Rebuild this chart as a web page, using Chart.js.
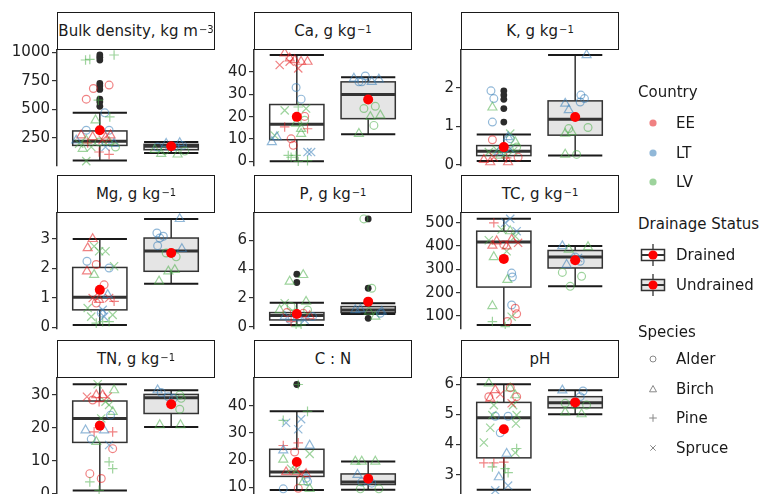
<!DOCTYPE html>
<html><head><meta charset="utf-8">
<script src="https://cdn.jsdelivr.net/npm/chart.js@4"></script>
<style>
body{margin:0;width:764px;height:494px;overflow:hidden;background:#fff;font-family:"DejaVu Sans",sans-serif;position:relative}
.strip{position:absolute;box-sizing:border-box;border:1.5px solid #1a1a1a;background:#fff;display:flex;align-items:center;justify-content:center;font-size:15px;color:#1a1a1a;white-space:nowrap}
.strip sup{font-size:10px;position:relative;top:-2px;vertical-align:top;margin-left:1px}
canvas{position:absolute}
.lg{position:absolute;font-size:15px;color:#1a1a1a;line-height:18px;white-space:nowrap}
svg{position:absolute;overflow:visible}
</style></head><body>
<script>
// ---------- DATA ----------
const categories = ["Drained", "Undrained"];
const countries = ["EE", "LT", "LV"];
const species = ["Alder", "Birch", "Pine", "Spruce"];

// box stats: [lowWhisker, q1, median, q3, highWhisker] per category
const bulkBox = [[50,182,218,309,468],[115,144,174,191,212]];
const bulkMean = [315,174];
const bulkOut = [[976,956,932,726,703,674,588,565,526],[]];
const bulkTicks = [250,500,750,1000];
const bulkRange = [1,1020];
const bulkPts = [[0.80,932,2,2],[0.86,938,2,2],[1.20,976,2,2],[0.91,682,0,0],[1.13,712,0,0],[0.81,588,0,0],[0.98,579,2,2],[1.07,468,1,0],[1.14,432,2,2],[0.94,403,2,1],[0.81,315,1,0],[1.13,315,1,0],[0.74,271,0,1],[0.90,256,0,1],[1.15,271,0,1],[0.81,226,2,1],[0.71,197,2,3],[1.04,232,0,3],[1.20,197,1,1],[0.99,212,2,0],[0.88,168,2,3],[0.83,203,0,2],[1.08,168,1,3],[0.76,153,2,1],[0.99,124,0,2],[1.13,103,0,2],[0.81,44,2,3],[1.13,212,2,1],[0.67,226,1,1],[1.22,168,2,0],[1.08,250,0,1],
 [1.86,109,2,1],[2.09,103,2,1],[1.98,168,1,1],[2.16,182,1,0],[1.81,168,1,0],[2.12,203,1,1],[1.91,138,2,0],[2.05,174,1,0],[1.77,144,2,1],[1.93,197,1,1],[2.19,132,2,0]];

const caBox = [[0.1,9.7,16.6,25.4,47.5],[12.1,19.1,29.9,35.5,37.5]];
const caMean = [19.9,27.6];
const caOut = [[],[]];
const caTicks = [0,10,20,30,40];
const caRange = [-2.0,49.7];
const caPts = [[0.83,48.2,0,1],[0.90,46.0,0,1],[0.97,45.2,0,1],[1.06,44.5,0,1],[1.15,44.5,0,1],[0.76,43.0,0,3],[1.02,41.5,0,3],[0.90,44.5,0,3],[0.99,33.0,1,0],[1.06,27.8,1,0],[0.83,22.8,2,3],[1.13,23.6,2,3],[1.02,24.3,2,2],[1.11,20.1,0,0],[0.99,16.9,2,1],[1.06,14.6,2,1],[0.83,15.4,0,2],[1.15,14.6,0,2],[0.69,11.6,2,3],[0.65,8.7,1,1],[0.92,10.1,0,0],[0.95,7.2,0,0],[0.99,2.7,2,2],[0.92,1.9,2,2],[1.15,0.4,2,2],[1.02,0.0,2,2],[1.15,4.2,1,3],[1.20,4.2,1,3],[0.88,2.7,2,2],[1.06,12.4,2,1],[1.11,18.4,2,0],[0.72,10.9,1,1],
 [1.80,37.0,1,1],[2.15,36.6,1,1],[1.87,35.5,1,0],[1.96,38.1,1,0],[1.91,35.5,1,0],[2.05,35.5,1,1],[1.94,23.6,2,0],[2.10,24.6,2,0],[2.03,19.9,2,1],[2.17,20.6,2,1],[2.08,16.1,2,0],[1.87,12.4,2,1]];

const kBox = [[0.10,0.24,0.35,0.50,0.79],[0.24,0.77,1.18,1.66,2.85]];
const kMean = [0.46,1.24];
const kOut = [[1.92,1.81,1.70,1.46,1.11],[]];
const kTicks = [0,1,2];
const kRange = [-0.03,2.98];
const kPts = [[0.82,1.92,1,0],[0.86,1.72,1,0],[0.84,1.11,1,0],[0.84,1.49,2,1],[0.84,0.65,0,0],[1.09,0.81,2,3],[1.06,0.72,1,1],[1.09,0.68,1,0],[1.16,0.59,2,1],[0.81,0.07,0,1],[1.06,0.07,0,1],[1.20,0.20,0,0],[0.79,0.33,2,3],[0.90,0.39,2,3],[1.02,0.29,2,3],[1.13,0.36,2,3],[0.95,0.24,2,1],[0.86,0.20,0,3],[1.09,0.42,1,3],[0.72,0.13,0,1],[1.18,0.46,2,0],[0.93,0.33,1,1],[1.04,0.18,0,2],
 [2.16,2.85,1,1],[2.08,1.81,1,0],[2.13,1.72,1,0],[2.07,1.63,1,0],[1.86,1.59,1,1],[1.91,1.42,1,1],[1.91,0.94,2,0],[2.18,0.97,2,0],[1.86,0.81,2,1],[1.95,0.85,2,1],[1.86,0.27,2,1],[2.02,0.27,2,0]];

const mgBox = [[0.08,0.59,1.02,2.03,3.00],[1.48,1.90,2.59,3.03,3.68]];
const mgMean = [1.27,2.52];
const mgOut = [[],[]];
const mgTicks = [0,1,2,3];
const mgRange = [-0.06,3.88];
const mgPts = [[0.90,3.00,0,1],[0.83,2.69,0,1],[0.82,1.90,0,1],[0.92,2.75,2,3],[0.99,2.58,2,3],[1.08,2.58,2,3],[0.82,2.24,1,0],[0.95,2.13,0,0],[0.92,1.78,2,1],[1.13,2.01,1,0],[1.20,2.07,2,3],[1.06,1.44,0,0],[0.90,0.99,0,3],[1.13,0.99,0,3],[0.99,0.93,0,1],[1.11,1.10,1,1],[1.04,0.59,1,3],[1.02,0.48,1,0],[0.83,0.65,2,3],[1.18,0.42,2,3],[0.95,0.14,2,2],[1.04,0.19,2,2],[1.13,0.19,2,2],[0.88,0.36,2,3],[1.20,0.88,0,2],[1.06,0.36,1,3],[0.95,0.82,0,0],
 [2.12,3.68,1,1],[1.80,3.20,1,0],[1.84,3.03,1,0],[1.81,2.77,1,0],[2.15,2.66,1,1],[1.93,2.52,2,0],[2.07,2.39,2,0],[1.96,1.90,2,1],[2.05,1.95,2,1],[1.83,1.56,2,1],[1.89,3.09,1,0]];

const pBox = [[0.12,0.47,0.77,0.98,1.67],[0.88,0.98,1.16,1.40,1.63]];
const pMean = [0.88,1.74];
const pOut = [[3.65,3.07],[7.49,2.67,0.58]];
const pTicks = [0,2,4,6];
const pRange = [-0.16,7.9];
const pPts = [[0.90,3.14,2,1],[1.09,3.60,2,1],[0.83,1.63,2,3],[1.13,1.74,2,1],[0.92,1.40,2,0],[0.83,0.70,1,1],[0.90,0.51,1,0],[1.09,0.93,0,0],[1.18,0.74,0,1],[1.06,0.12,2,2],[0.99,0.00,2,2],[0.95,1.05,2,3],[1.02,0.58,1,1],[0.86,0.98,0,0],[1.15,1.16,2,0],[1.11,0.47,1,3],[0.92,0.35,0,2],[0.76,1.16,2,1],[1.22,0.70,1,0],
 [1.94,7.49,2,0],[2.05,2.67,2,0],[1.82,1.16,1,1],[2.19,1.05,1,1],[2.10,0.70,2,1],[2.17,0.93,1,0],[2.01,1.05,2,1],[1.89,1.21,1,1]];

const tcBox = [[61,224,417,464,517],[227,306,353,381,400]];
const tcMean = [345,339];
const tcOut = [[],[]];
const tcTicks = [100,200,300,400,500];
const tcRange = [44,542];
const tcPts = [[0.86,500,0,2],[1.09,517,1,3],[1.18,464,1,3],[0.97,471,2,3],[1.09,464,2,1],[0.79,425,2,3],[0.90,421,0,1],[1.00,406,0,0],[1.11,428,0,1],[1.20,414,0,3],[1.04,378,2,3],[0.86,353,2,1],[1.11,284,1,0],[1.12,267,1,0],[1.05,255,2,1],[0.84,143,2,1],[1.11,147,1,0],[1.16,133,0,0],[1.18,109,0,0],[1.05,76,0,0],[0.84,76,2,2],[1.11,97,2,3],[1.02,54,2,2],[1.04,399,0,1],[1.16,442,2,3],[0.84,402,0,1],[1.02,500,1,3],
 [1.82,400,1,1],[2.18,396,2,1],[1.91,385,2,1],[2.00,353,1,0],[2.07,335,1,0],[1.88,320,1,1],[1.82,287,2,0],[2.09,270,2,0],[1.93,227,2,0],[2.04,349,1,3]];

const tnBox = [[1.0,15.6,22.9,28.2,33.3],[20.3,24.4,29.2,30.2,31.5]];
const tnMean = [20.7,27.2];
const tnOut = [[],[]];
const tnTicks = [0,10,20,30];
const tnRange = [-0.1,35.2];
const tnPts = [[0.97,33.3,2,3],[1.20,31.5,2,1],[0.82,29.5,0,3],[0.95,30.0,0,1],[1.04,30.0,0,1],[0.90,28.5,0,0],[0.99,28.0,0,2],[1.13,27.0,2,3],[1.18,24.9,2,1],[1.15,23.9,1,0],[1.02,22.9,2,3],[0.80,19.3,1,1],[0.92,18.8,0,2],[1.18,18.8,0,2],[0.88,16.6,1,0],[1.13,14.8,1,3],[1.18,13.7,0,0],[1.13,9.7,2,2],[1.18,7.6,2,2],[0.86,6.1,0,0],[1.02,4.6,0,0],[0.86,3.6,2,2],[0.99,1.0,2,2],[1.08,28.0,2,3],[0.95,15.8,2,1],[1.06,19.3,1,1],[1.11,29.5,0,3],
 [1.81,31.5,1,1],[1.86,30.8,1,0],[1.96,29.5,1,0],[2.12,30.0,2,0],[2.14,29.0,2,0],[2.12,25.7,2,0],[1.84,20.9,2,1],[2.13,20.9,2,1],[2.03,29.0,1,0]];

const cnBox = [[9.0,14.0,15.6,24.0,38.0],[9.1,11.0,11.9,14.9,19.5]];
const cnMean = [19.3,13.1];
const cnOut = [[47.9],[]];
const cnTicks = [10,20,30,40];
const cnRange = [7.5,50.3];
const cnPts = [[1.02,47.9,2,2],[1.15,38.0,2,2],[0.81,34.7,2,2],[0.85,33.8,1,3],[1.06,35.1,1,3],[1.02,31.4,1,3],[1.02,26.4,0,2],[0.81,25.4,0,2],[1.18,25.4,1,1],[0.81,23.6,1,1],[0.97,23.0,0,0],[1.18,22.3,2,3],[0.81,20.2,2,1],[0.85,15.6,0,1],[0.99,15.6,0,1],[1.13,14.9,0,1],[0.99,16.2,2,3],[1.06,14.9,0,3],[1.13,13.3,1,0],[1.15,12.1,1,0],[0.81,9.4,1,0],[1.18,9.4,2,1],[1.02,9.6,0,0],[0.92,16.8,2,3],[1.09,11.9,2,1],
 [1.82,19.5,2,1],[1.91,19.5,2,1],[2.10,19.5,2,1],[1.85,14.6,1,1],[1.91,11.9,1,0],[2.05,11.5,1,0],[1.89,9.4,2,0],[2.15,9.4,2,0],[2.01,12.5,1,0]];

const phBox = [[2.5,3.56,4.89,5.40,6.0],[5.01,5.22,5.39,5.59,5.80]];
const phMean = [4.51,5.40];
const phOut = [[],[]];
const phTicks = [3,4,5,6];
const phRange = [2.36,6.21];
const phPts = [[0.79,6.03,2,1],[1.09,5.87,2,1],[1.09,5.89,0,0],[0.88,5.81,0,1],[1.16,5.64,2,1],[0.79,5.59,0,0],[1.18,5.59,0,0],[0.81,5.53,0,1],[0.95,5.67,0,3],[0.86,5.31,2,3],[1.13,5.31,2,3],[1.11,5.37,0,3],[0.88,4.94,1,0],[1.06,4.94,1,0],[0.84,4.98,2,3],[1.18,4.98,2,3],[1.17,4.70,2,3],[0.81,4.56,2,3],[0.95,4.39,1,0],[0.72,4.07,2,3],[1.18,3.87,2,2],[1.04,3.70,1,1],[1.16,3.73,2,3],[0.72,3.39,0,2],[0.86,3.39,0,2],[1.00,3.42,0,2],[0.84,3.26,2,2],[1.02,3.20,2,2],[1.06,3.07,2,2],[0.93,2.92,1,1],[0.88,2.48,1,3],[1.06,2.64,1,3],
 [1.82,5.80,1,1],[2.11,5.78,1,0],[1.86,5.37,2,0],[2.00,5.31,2,0],[2.16,5.31,2,0],[1.86,5.07,2,1],[2.09,5.01,2,1],[2.07,5.59,1,0]];

const panels = [
 {label:'Bulk density, kg m<sup>−3</sup>', box:bulkBox, mean:bulkMean, out:bulkOut, pts:bulkPts, ticks:bulkTicks, range:bulkRange},
 {label:'Ca, g kg<sup>−1</sup>', box:caBox, mean:caMean, out:caOut, pts:caPts, ticks:caTicks, range:caRange},
 {label:'K, g kg<sup>−1</sup>', box:kBox, mean:kMean, out:kOut, pts:kPts, ticks:kTicks, range:kRange},
 {label:'Mg, g kg<sup>−1</sup>', box:mgBox, mean:mgMean, out:mgOut, pts:mgPts, ticks:mgTicks, range:mgRange},
 {label:'P, g kg<sup>−1</sup>', box:pBox, mean:pMean, out:pOut, pts:pPts, ticks:pTicks, range:pRange},
 {label:'TC, g kg<sup>−1</sup>', box:tcBox, mean:tcMean, out:tcOut, pts:tcPts, ticks:tcTicks, range:tcRange},
 {label:'TN, g kg<sup>−1</sup>', box:tnBox, mean:tnMean, out:tnOut, pts:tnPts, ticks:tnTicks, range:tnRange},
 {label:'C : N', box:cnBox, mean:cnMean, out:cnOut, pts:cnPts, ticks:cnTicks, range:cnRange},
 {label:'pH', box:phBox, mean:phMean, out:phOut, pts:phPts, ticks:phTicks, range:phRange}
];

// ---------- STYLE / LAYOUT ----------
const countryColors = ['rgba(228,26,28,0.55)','rgba(55,126,184,0.55)','rgba(77,175,74,0.55)'];
const countryKey = ['rgba(228,26,28,0.55)','rgba(55,126,184,0.55)','rgba(77,175,74,0.55)'];
const shapeStyles = ['circle','triangle','cross','crossRot'];
const shapeRadius = [3.9, 5.2, 4.8, 5.8];
const colLeft = [57, 254, 461];
const rowTop = [50, 213, 378];
const PW = 158, PH = 116, STRIP = 38, AXW = 55, PADT = 10, PADR = 6;

const boxPlugin = {
  id: 'boxes',
  beforeDatasetsDraw(chart, args, opts) {
    const ctx = chart.ctx, xs = chart.scales.x, ys = chart.scales.y;
    opts.box.forEach((b, i) => {
      const cx = xs.getPixelForValue(i + 1);
      const hw = xs.getPixelForValue(i + 1 + 0.38) - cx;
      const [lo, q1, med, q3, hi] = b.map(v => ys.getPixelForValue(v));
      ctx.save();
      ctx.strokeStyle = '#333';
      ctx.lineWidth = 1.5;
      ctx.beginPath();
      ctx.moveTo(cx, q3); ctx.lineTo(cx, hi);
      ctx.moveTo(cx, q1); ctx.lineTo(cx, lo);
      ctx.stroke();
      ctx.fillStyle = i === 0 ? '#ffffff' : '#e5e5e5';
      ctx.fillRect(cx - hw, q3, 2 * hw, q1 - q3);
      ctx.strokeRect(cx - hw, q3, 2 * hw, q1 - q3);
      ctx.strokeStyle = '#1a1a1a';
      ctx.lineWidth = 2;
      ctx.beginPath();
      ctx.moveTo(cx - hw, hi); ctx.lineTo(cx + hw, hi);
      ctx.moveTo(cx - hw, lo); ctx.lineTo(cx + hw, lo);
      ctx.stroke();
      ctx.strokeStyle = '#333';
      ctx.lineWidth = 3;
      ctx.beginPath();
      ctx.moveTo(cx - hw, med); ctx.lineTo(cx + hw, med);
      ctx.stroke();
      ctx.restore();
    });
  }
};

panels.forEach((p, k) => {
  const col = k % 3, row = Math.floor(k / 3);
  const left = colLeft[col], top = rowTop[row];
  const strip = document.createElement('div');
  strip.className = 'strip';
  strip.style.left = left + 'px';
  strip.style.top = (top - STRIP) + 'px';
  strip.style.width = PW + 'px';
  strip.style.height = STRIP + 'px';
  strip.innerHTML = p.label;

  const cv = document.createElement('canvas');
  cv.width = AXW + PW + PADR;
  cv.height = PH + 2 * PADT;
  cv.style.left = (left - AXW) + 'px';
  cv.style.top = (top - PADT) + 'px';
  document.body.appendChild(cv);
  document.body.appendChild(strip);

  const outData = [];
  p.out.forEach((arr, i) => arr.forEach(v => outData.push({x: i + 1, y: v})));

  new Chart(cv, {
    type: 'scatter',
    data: {
      datasets: [
        {data: p.mean.map((v, i) => ({x: i + 1, y: v})), pointRadius: 5, backgroundColor: '#ff0000', borderWidth: 0, order: 0},
        {data: p.pts.map(q => ({x: q[0], y: q[1], c: q[2], s: q[3]})),
         pointStyle: c => shapeStyles[c.raw.s],
         pointRadius: c => shapeRadius[c.raw.s],
         borderColor: c => countryColors[c.raw.c],
         backgroundColor: 'rgba(0,0,0,0)', borderWidth: 1.2, order: 1},
        {data: outData, pointRadius: 3.4, backgroundColor: '#2b2b2b', borderWidth: 0, order: 2}
      ]
    },
    options: {
      responsive: false, animation: false, devicePixelRatio: 1, events: [],
      layout: {padding: {top: PADT, bottom: PADT, left: 0, right: PADR}},
      plugins: {legend: {display: false}, tooltip: {enabled: false}, boxes: {box: p.box}},
      scales: {
        x: {type: 'linear', min: 0.4, max: 2.6, display: false},
        y: {
          type: 'linear', min: p.range[0], max: p.range[1],
          afterBuildTicks: s => { s.ticks = p.ticks.map(v => ({value: v})); },
          afterFit: s => { s.width = AXW; s.paddingTop = 0; s.paddingBottom = 0; },
          grid: {drawOnChartArea: false, drawTicks: true, tickLength: 5, color: '#333', lineWidth: 1.2},
          border: {display: true, color: '#333', width: 1.5},
          ticks: {padding: 2, color: '#222', font: {family: 'DejaVu Sans', size: 15}, callback: v => String(v), autoSkip: false}
        }
      }
    },
    plugins: [boxPlugin]
  });
});

// ---------- LEGEND ----------
function txt(s, x, cy) {
  const d = document.createElement('div');
  d.className = 'lg'; d.textContent = s;
  d.style.left = x + 'px'; d.style.top = (cy - 9) + 'px';
  document.body.appendChild(d);
}
function svg(html, x, y, w, h) {
  const s = document.createElementNS('http://www.w3.org/2000/svg', 'svg');
  s.setAttribute('width', w); s.setAttribute('height', h);
  s.style.left = x + 'px'; s.style.top = y + 'px';
  s.innerHTML = html;
  document.body.appendChild(s);
}
const KX = 653.3, LX = 676;
txt('Country', 638, 92);
const cY = [123, 152.5, 182];
countries.forEach((c, i) => {
  svg(`<circle cx="5" cy="5" r="3.6" fill="${countryKey[i]}"/>`, KX - 5, cY[i] - 5, 10, 10);
  txt(c, LX, cY[i]);
});
txt('Drainage Status', 638, 223.5);
const dY = [255, 284.5];
categories.forEach((c, i) => {
  svg(`<line x1="13" y1="1" x2="13" y2="23" stroke="#333" stroke-width="1.3"/>
       <rect x="1.5" y="6.5" width="23" height="11" fill="${i === 0 ? '#fff' : '#e5e5e5'}" stroke="#333" stroke-width="1.5"/>
       <line x1="1.5" y1="12" x2="24.5" y2="12" stroke="#333" stroke-width="2"/>
       <circle cx="13" cy="12" r="4.6" fill="#ff0000"/>`, KX - 13, dY[i] - 12, 26, 24);
  txt(c, LX, dY[i]);
});
txt('Species', 638, 332);
const sY = [358.5, 388.5, 418, 447.5];
const keyShapes = [
  '<circle cx="6" cy="6" r="3" fill="none" stroke="#888" stroke-width="1"/>',
  '<polygon points="6,2.5 9.5,8.8 2.5,8.8" fill="none" stroke="#888" stroke-width="1"/>',
  '<path d="M6 2.2V9.8M2.2 6H9.8" stroke="#888" stroke-width="1"/>',
  '<path d="M3.3 3.3L8.7 8.7M8.7 3.3L3.3 8.7" stroke="#888" stroke-width="1"/>'
];
species.forEach((s, i) => {
  svg(keyShapes[i], KX - 6, sY[i] - 6, 12, 12);
  txt(s, LX, sY[i]);
});
</script>
</body></html>
